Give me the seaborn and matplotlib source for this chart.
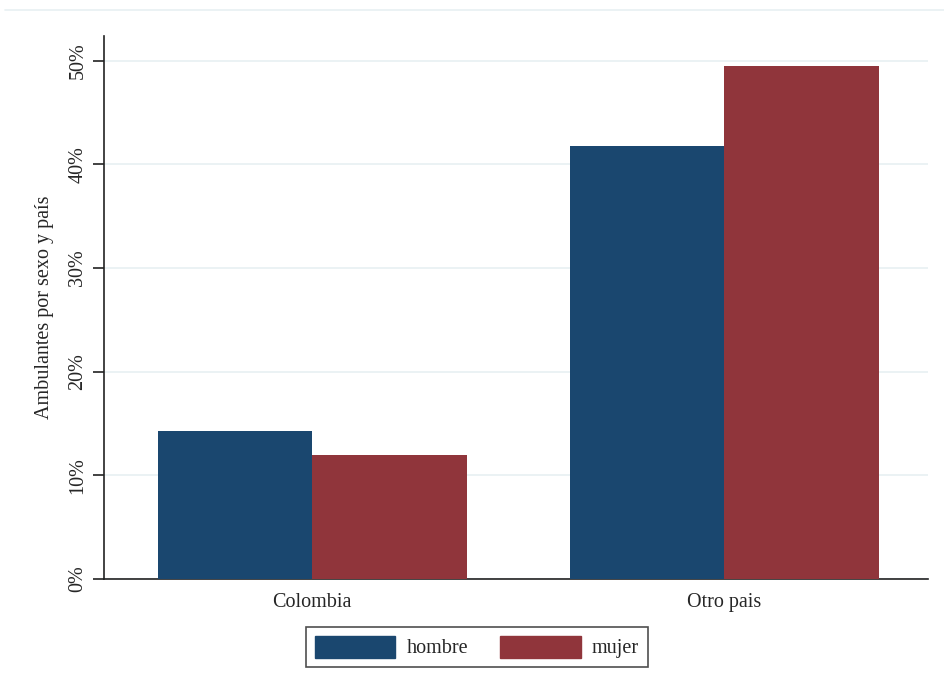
import matplotlib
matplotlib.use("Agg")
import matplotlib.pyplot as plt
import matplotlib.ticker as mticker
from matplotlib.lines import Line2D
import pandas as pd
import seaborn as sns

# Datos
paises = ['Colombia', 'Otro pais']
sexos = ['hombre', 'mujer']
hombre = [14.3, 41.8]
mujer = [12.0, 49.5]

df = pd.DataFrame({
    'pais': paises * 2,
    'sexo': [sexos[0]] * 2 + [sexos[1]] * 2,
    'valor': hombre + mujer,
})

sns.set_style('white')
plt.rcParams['font.family'] = ['Liberation Serif', 'DejaVu Serif']

fig = plt.figure(figsize=(9.44, 6.98), dpi=100)
ax = fig.add_axes([104 / 944, 1 - 579 / 698, (928 - 104) / 944, (579 - 36) / 698])

palette = {'hombre': '#1a476f', 'mujer': '#90353b'}
sns.barplot(data=df, x='pais', y='valor', hue='sexo', order=paises, hue_order=sexos,
            palette=palette, width=0.75, saturation=1, ax=ax, zorder=3)
for p in ax.patches:
    p.set_linewidth(0)

ax.set_xlim(-0.505, 1.495)
ax.set_ylim(0, 52.4)
ax.set_yticks([0, 10, 20, 30, 40, 50])
ax.yaxis.set_major_formatter(mticker.FuncFormatter(lambda v, _: f'{v:.0f}%'))
ax.grid(axis='y', color='#e8f0f2', linewidth=1.2, zorder=0)
ax.set_axisbelow(True)

for s in ['top', 'right']:
    ax.spines[s].set_visible(False)
for s in ['left', 'bottom']:
    ax.spines[s].set_color('#222222')
    ax.spines[s].set_linewidth(1.2)

ax.tick_params(axis='y', direction='out', length=8, width=1.2, color='#222222',
               labelsize=14.5, pad=4, left=True)
for lbl in ax.get_yticklabels():
    lbl.set_rotation(90)
    lbl.set_va('center')
ax.tick_params(axis='x', length=0, labelsize=14.5, pad=10)

ax.set_xlabel('')
ax.set_ylabel('Ambulantes por sexo y país', fontsize=14.5, labelpad=10)

ax.legend_.remove()
handles = [plt.Rectangle((0, 0), 1, 1, color=palette[s]) for s in sexos]
fig.legend(handles, sexos, loc='center', bbox_to_anchor=(477 / 944, 1 - 647 / 698),
           ncol=2, frameon=True, fancybox=False, edgecolor='#222222', fontsize=14.5,
           handlelength=4.0, handleheight=1.3, columnspacing=1.6, handletextpad=0.55,
           borderpad=0.45)
fig.legends[0].get_frame().set_linewidth(1.2)

# línea tenue superior del marco
fig.add_artist(Line2D([5 / 944, 1], [1 - 10 / 698] * 2, color='#e8f0f2', linewidth=1.2))

fig.savefig('out.png', dpi=100)
